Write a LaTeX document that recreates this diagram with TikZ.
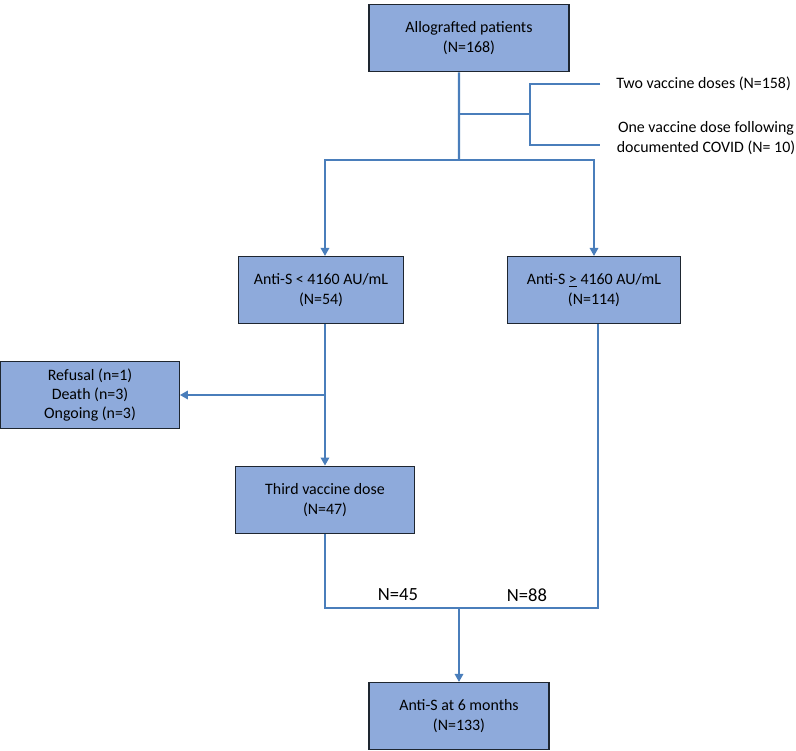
\documentclass[tikz,border=0pt]{standalone}
\usepackage{fontspec}
\setmainfont{Carlito}
\usetikzlibrary{arrows.meta}
\definecolor{flowline}{HTML}{4A7EBB}
\definecolor{boxfill}{HTML}{8EAADB}
\definecolor{boxedge}{HTML}{1E2630}
\begin{document}
\begin{tikzpicture}[
    x=0.0265cm, y=-0.0265cm,
    stepbox/.style={
      draw=boxedge,
      line width=0.8pt,
      fill=boxfill,
      align=center,
      inner sep=0pt,
      font=\fontsize{12}{14.6}\selectfont
    },
    link/.style={
      line width=1pt,
      color=flowline
    },
    arr/.style={
      link,
      -{Triangle[width=6.5pt,length=6pt]}
    },
    note/.style={
      align=center,
      inner sep=0pt,
      font=\fontsize{12}{15.5}\selectfont
    }
  ]
  \useasboundingbox (0,0) rectangle (796,751);

  % boxes
  \node[stepbox, minimum width=5.30cm, minimum height=1.80cm] (patients) at (469,38)
    {Allografted patients\\(N=168)};
  \node[stepbox, minimum width=4.35cm, minimum height=1.78cm] (low) at (321,290)
    {Anti-S < 4160 AU/mL\\(N=54)};
  \node[stepbox, minimum width=4.58cm, minimum height=1.78cm] (high) at (594,290)
    {Anti-S \underline{>} 4160 AU/mL\\(N=114)};
  \node[stepbox, minimum width=4.74cm, minimum height=1.80cm] (excluded) at (90,395)
    {Refusal (n=1)\\Death (n=3)\\Ongoing (n=3)};
  \node[stepbox, minimum width=4.74cm, minimum height=1.80cm] (third) at (325,500)
    {Third vaccine dose\\(N=47)};
  \node[stepbox, minimum width=4.77cm, minimum height=1.78cm] (sixmonths) at (459,716)
    {Anti-S at 6 months\\(N=133)};

  % side notes
  \node[note, anchor=west] (twodoses) at (616,84) {Two vaccine doses (N=158)};
  \node[note] (onedose) at (706,138) {One vaccine dose following\\documented COVID (N= 10)};

  \coordinate (trunk) at (459,160);
  \coordinate (branch) at (459,114);
  \coordinate (twoend) at (600,84);
  \coordinate (oneend) at (600,145);
  \coordinate (join) at (459,608);

  % connectors
  \draw[link, line width=1.8pt] ([xshift=-0.265cm]patients.south) -- (trunk);
  \draw[link] (branch) -- (530,114);
  \draw[link] (twoend) -- (530,84) -- (530,145) -- (oneend);
  \draw[arr] (trunk) -| ([xshift=3pt]low.north);
  \draw[arr] (trunk) -| (high.north);
  \draw[arr] ([xshift=3pt]low.south) -- ([xshift=3pt]low.south |- third.north);
  \draw[arr] ([xshift=3pt]low.south |- excluded.east) -- (excluded.east);
  \draw[link] (third.south) |- (join) -| ([xshift=3pt]high.south);
  \draw[arr] (join) -- (sixmonths.north);

  % counts
  \node[font=\fontsize{14}{16}\selectfont] (countlow) at (398,595) {N=45};
  \node[font=\fontsize{14}{16}\selectfont] (counthigh) at (527,595) {N=88};
\end{tikzpicture}
\end{document}
